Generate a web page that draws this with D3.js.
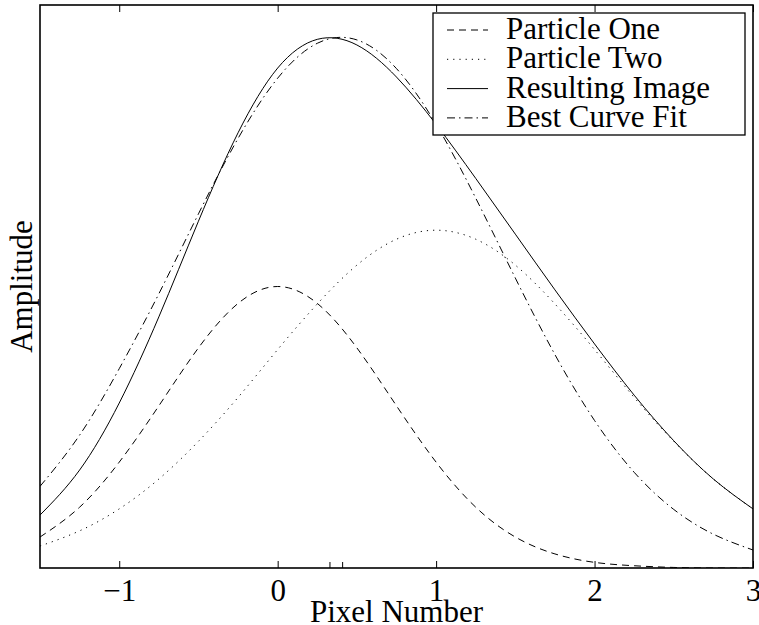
<!DOCTYPE html>
<html>
<head>
<meta charset="utf-8">
<script src="https://cdn.jsdelivr.net/npm/d3@7"></script>
<style>
  body { margin: 0; background: #fff; }
  text { font-family: "Liberation Serif", "DejaVu Serif", serif; fill: #000; }
</style>
</head>
<body>
<svg id="chart" width="759" height="625"></svg>
<script>
// values, step 0.25
var xs = [-1.5, -1.25, -1, -0.75, -0.5, -0.25, 0, 0.25, 0.5, 0.75, 1, 1.25, 1.5, 1.75, 2, 2.25, 2.5, 2.75, 3];
var particleOne = [0.055, 0.108, 0.188, 0.288, 0.391, 0.470, 0.500, 0.470, 0.391, 0.288, 0.188, 0.108, 0.055, 0.025, 0.010, 0.004, 0.001, 0.000, 0.000];
var particleTwo = [0.039, 0.066, 0.105, 0.158, 0.225, 0.303, 0.388, 0.469, 0.538, 0.584, 0.600, 0.584, 0.538, 0.469, 0.388, 0.303, 0.225, 0.158, 0.105];
var resulting = [0.094, 0.174, 0.293, 0.446, 0.616, 0.773, 0.888, 0.939, 0.929, 0.872, 0.788, 0.692, 0.593, 0.494, 0.398, 0.307, 0.226, 0.158, 0.105];
var bestFit = [0.145, 0.236, 0.354, 0.487, 0.629, 0.763, 0.870, 0.932, 0.938, 0.887, 0.788, 0.657, 0.515, 0.379, 0.262, 0.170, 0.104, 0.060, 0.032];
var xTicks = [-1, 0, 1, 2, 3];
var peakTicks = [0.33, 0.41];
var seriesNames = ["Particle One", "Particle Two", "Resulting Image", "Best Curve Fit"];

var svg = d3.select('#chart');
var pLeft = 40, pRight = 753, pTop = 5, pBottom = 568;

var x = d3.scaleLinear().domain([-1.5, 3]).range([pLeft, pRight]);
var y = d3.scaleLinear().domain([0, 1]).range([pBottom, pTop]);

var series = [
	{name: seriesNames[0], vals: particleOne, dash: '7,5'},
	{name: seriesNames[1], vals: particleTwo, dash: '1.2,5'},
	{name: seriesNames[2], vals: resulting, dash: null},
	{name: seriesNames[3], vals: bestFit, dash: '8,4,1.5,4'}
];

svg.append('clipPath').attr('id', 'clip')
	.append('rect')
	.attr('x', pLeft).attr('y', pTop)
	.attr('width', pRight - pLeft).attr('height', pBottom - pTop);

var line = d3.line()
	.x(function(d){ return x(d[0]); })
	.y(function(d){ return y(d[1]); })
	.curve(d3.curveNatural);

var curves = svg.append('g').attr('clip-path', 'url(#clip)');
curves.selectAll('path')
	.data(series)
	.enter()
	.append('path')
	.attr('d', function(d){
		return line(xs.map(function(v, i){ return [v, d.vals[i]]; }));
	})
	.attr('fill', 'none')
	.attr('stroke', '#000')
	.attr('stroke-width', 1)
	.attr('stroke-dasharray', function(d){ return d.dash; });

// axes, ticks on both sides pointing in
var fmt = function(d){ return d < 0 ? '\u2212' + Math.abs(d) : '' + d; };
svg.append('g')
	.attr('transform', 'translate(0,' + pBottom + ')')
	.call(d3.axisBottom(x).tickValues(xTicks).tickSize(-7).tickPadding(14).tickFormat(fmt))
	.call(function(g){
		g.select('.domain').remove();
		g.selectAll('line').attr('stroke', '#000');
		g.selectAll('text').attr('font-size', '31px').attr('dy', '0.62em');
	});
svg.append('g')
	.attr('transform', 'translate(0,' + pTop + ')')
	.call(d3.axisTop(x).tickValues(xTicks).tickSize(-7).tickFormat(''))
	.call(function(g){
		g.select('.domain').remove();
		g.selectAll('line').attr('stroke', '#000');
	});
svg.append('g').selectAll('line')
	.data(peakTicks)
	.enter()
	.append('line')
	.attr('x1', function(d){ return x(d); })
	.attr('x2', function(d){ return x(d); })
	.attr('y1', pBottom)
	.attr('y2', pBottom - 6)
	.attr('stroke', '#000');

svg.append('rect')
	.attr('x', pLeft).attr('y', pTop)
	.attr('width', pRight - pLeft).attr('height', pBottom - pTop)
	.attr('fill', 'none')
	.attr('stroke', '#000')
	.attr('stroke-width', 1.6);

svg.append('text')
	.attr('x', (pLeft + pRight) / 2)
	.attr('y', 622)
	.attr('text-anchor', 'middle')
	.attr('font-size', '31px')
	.text('Pixel Number');

svg.append('text')
	.attr('transform', 'translate(32,' + ((pTop + pBottom) / 2) + ') rotate(-90)')
	.attr('text-anchor', 'middle')
	.attr('font-size', '31px')
	.text('Amplitude');

// legend
var lg = svg.append('g');
lg.append('rect')
	.attr('x', 433).attr('y', 13)
	.attr('width', 312).attr('height', 122)
	.attr('fill', '#fff')
	.attr('stroke', '#000')
	.attr('stroke-width', 1.3);
var rows = lg.selectAll('.row')
	.data(series)
	.enter()
	.append('g')
	.attr('transform', function(d, i){ return 'translate(0,' + (30 + i * 29.3) + ')'; });
rows.append('line')
	.attr('x1', 447).attr('x2', 488)
	.attr('stroke', '#000')
	.attr('stroke-width', 1)
	.attr('stroke-dasharray', function(d){ return d.dash; });
rows.append('text')
	.attr('x', 506)
	.attr('y', 9)
	.attr('font-size', '31px')
	.text(function(d){ return d.name; });
</script>
</body>
</html>
